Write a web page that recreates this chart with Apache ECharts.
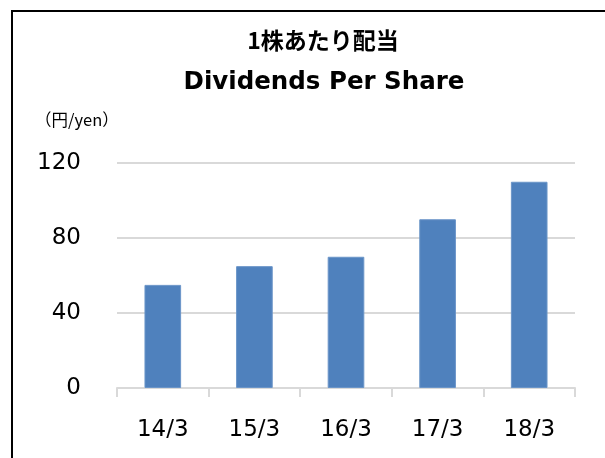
<!DOCTYPE html>
<html><head><meta charset="utf-8">
<script src="https://cdn.jsdelivr.net/npm/echarts@6/dist/echarts.min.js"></script>
<style>html,body{margin:0;padding:0;background:#fff}#c{width:605px;height:458px}</style>
</head><body><div id="c"></div>
<script>
const categories = ['14/3', '15/3', '16/3', '17/3', '18/3'];
const dividends = [55, 65, 70, 90, 110];
const yTicks = [0, 40, 80, 120];
const titleJa = '1株あたり配当';
const titleEn = 'Dividends Per Share';
const unitLabel = '（円/yen）';

const chart = echarts.init(document.getElementById('c'), null, {renderer: 'canvas'});
const cjk = '"Noto Sans CJK JP", sans-serif';
const lat = '"DejaVu Sans", "Noto Sans CJK JP", sans-serif';
chart.setOption({
  animation: false,
  backgroundColor: '#fff',
  graphic: [
    {type: 'rect', shape: {x: 12, y: 11, width: 700, height: 600}, style: {fill: 'none', stroke: '#000', lineWidth: 2}},
    {type: 'text', style: {text: titleJa, font: 'bold 23px ' + cjk, fill: '#000', textAlign: 'center', textVerticalAlign: 'middle'}, x: 323, y: 40},
    {type: 'text', style: {text: titleEn, font: 'bold 24.5px ' + lat, fill: '#000', textAlign: 'center', textVerticalAlign: 'middle'}, x: 324, y: 83},
    {type: 'text', style: {text: unitLabel, font: '16.5px ' + cjk, fill: '#000', textAlign: 'left', textVerticalAlign: 'middle'}, x: 35, y: 120}
  ],
  grid: {left: 117, right: 30, top: 163, bottom: 70, containLabel: false},
  xAxis: {
    type: 'category', data: categories,
    axisLine: {lineStyle: {color: '#d9d9d9', width: 2}},
    axisTick: {show: true, length: 9, lineStyle: {color: '#d9d9d9', width: 2}},
    axisLabel: {color: '#000', fontSize: 23, fontFamily: lat, margin: 31}
  },
  yAxis: {
    type: 'value', min: 0, max: 120, interval: 40,
    axisLine: {show: false}, axisTick: {show: false},
    splitLine: {lineStyle: {color: '#d9d9d9', width: 2}},
    axisLabel: {color: '#000', fontSize: 23, fontFamily: lat, margin: 36,
      formatter: v => yTicks.includes(v) ? String(v) : ''}
  },
  series: [{
    type: 'bar', data: dividends, barWidth: '40%',
    itemStyle: {color: '#4f81bd', borderColor: '#6b95c8', borderWidth: 1}
  }]
});
</script></body></html>
